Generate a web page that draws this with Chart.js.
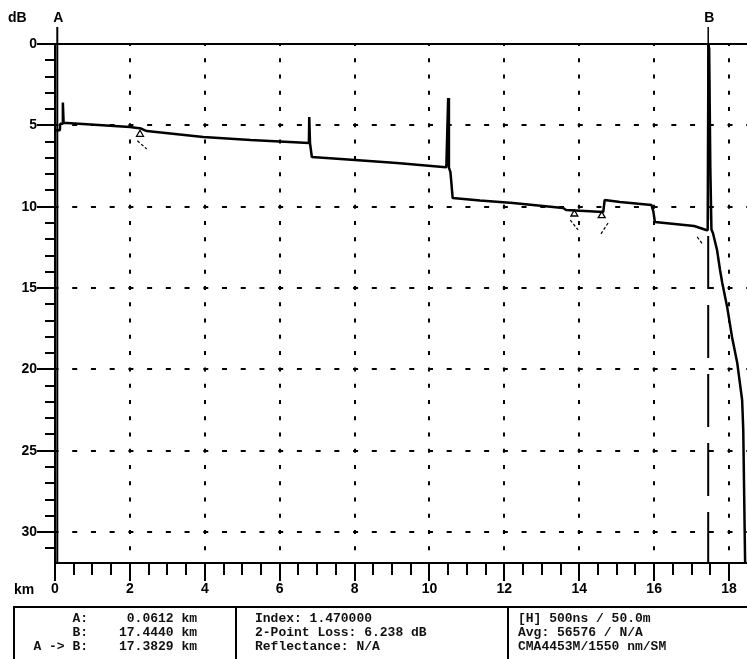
<!DOCTYPE html>
<html><head><meta charset="utf-8">
<script src="https://cdn.jsdelivr.net/npm/chart.js@4.4.1/dist/chart.umd.min.js"></script>
<style>
html,body{margin:0;padding:0;background:#fff;}
#wrap{position:relative;width:747px;height:659px;overflow:hidden;background:#fff;}
#c{position:absolute;left:0;top:0;}
.box{position:absolute;left:13px;top:606px;width:740px;height:60px;border-top:2px solid #000;border-left:2px solid #000;}
.sep{position:absolute;top:606px;width:2px;height:60px;background:#000;}
.t{position:absolute;font:bold 13px "Liberation Mono",monospace;color:#111;white-space:pre;line-height:14px;}
</style></head>
<body><div id="wrap"><canvas id="c" width="747" height="659"></canvas><div id="info"></div></div>
<script>
// ---- data ----
const traceKm = [0.00, 0.13, 0.14, 0.20, 0.21, 0.23, 0.32, 2.00, 2.30, 2.45, 3.96, 5.22, 6.78, 6.79, 6.81, 6.86, 8.01, 9.13, 10.36, 10.45, 10.50, 10.52, 10.56, 10.58, 10.62, 11.35, 12.23, 13.57, 13.65, 14.64, 14.68, 15.09, 15.93, 15.98, 16.02, 17.07, 17.39, 17.43, 17.45, 17.47, 17.50, 17.53, 17.57, 17.68, 17.76, 17.82, 17.95, 18.08, 18.22, 18.35, 18.38, 18.43];
const traceDb = [5.30, 5.30, 4.90, 4.90, 3.60, 4.85, 4.86, 5.10, 5.20, 5.35, 5.72, 5.90, 6.08, 4.49, 6.10, 6.95, 7.13, 7.31, 7.56, 7.58, 3.32, 7.60, 7.87, 8.40, 9.47, 9.62, 9.77, 10.08, 10.20, 10.33, 9.59, 9.71, 9.90, 10.30, 10.94, 11.19, 11.43, 11.45, 0.00, 0.30, 7.50, 11.40, 11.62, 12.66, 13.89, 14.69, 16.16, 18.01, 19.61, 21.88, 23.72, 31.90];
const markerKm = [0.0612, 17.444];
const markerNames = ['A', 'B'];
const eventKm = [2.27, 13.87, 14.60];
const eventDb = [5.55, 10.45, 10.55];
const hookKm = [2.20, 2.45, null, 13.76, 13.97, null, 14.77, 14.56, null, 17.15, 17.31];
const hookDb = [5.95, 6.45, null, 10.82, 11.43, null, 11.00, 11.74, null, 11.86, 12.35];
const xTickValues = [0, 2, 4, 6, 8, 10, 12, 14, 16, 18];
const yTickValues = [0, 5, 10, 15, 20, 25, 30];
const xMaxKm = 18.48, yMaxDb = 31.9, minorKm = 0.5, minorDb = 1;
const infoLabels = ['A:', 'B:', 'A -> B:'];
const infoValues = ['0.0612 km', '17.4440 km', '17.3829 km'];
const infoMid = ['Index: 1.470000', '2-Point Loss: 6.238 dB', 'Reflectance: N/A'];
const infoRight = ['[H] 500ns / 50.0m', 'Avg: 56576 / N/A', 'CMA4453M/1550 nm/SM'];

// ---- info table (HTML text) ----
(function(){
  let h = '<div class="box"></div><div class="sep" style="left:235px"></div><div class="sep" style="left:507px"></div>';
  for (let i = 0; i < 3; i++) {
    const top = 612 + i * 14;
    h += `<div class="t" style="left:0;width:88px;text-align:right;top:${top}px">${infoLabels[i].replace('>','&gt;')}</div>`;
    h += `<div class="t" style="left:90px;width:107px;text-align:right;top:${top}px">${infoValues[i]}</div>`;
    h += `<div class="t" style="left:255px;top:${top}px">${infoMid[i]}</div>`;
    h += `<div class="t" style="left:518px;top:${top}px">${infoRight[i]}</div>`;
  }
  document.getElementById('info').innerHTML = h;
})();

const pts = (xs, ys) => xs.map((x, i) => (x === null ? {x: NaN, y: null} : {x: x, y: ys[i]}));
const axisFont = {family: '"Liberation Sans", Arial, sans-serif', size: 14, weight: 'bold'};

const decor = {
  id: 'decor',
  afterDraw(chart) {
    const {ctx, chartArea: a, scales: {x, y}} = chart;
    ctx.save();
    ctx.strokeStyle = '#000';
    ctx.lineWidth = 2;
    for (let v = 0; v <= x.max + 1e-9; v += minorKm) {
      const px = Math.round(x.getPixelForValue(v));
      const major = Math.abs(v / 2 - Math.round(v / 2)) < 1e-6;
      ctx.beginPath(); ctx.moveTo(px, a.bottom); ctx.lineTo(px, a.bottom + (major ? 18 : 12)); ctx.stroke();
    }
    for (let v = 0; v <= y.max + 1e-9; v += minorDb) {
      const py = Math.round(y.getPixelForValue(v));
      const major = v % 5 === 0;
      ctx.beginPath(); ctx.moveTo(a.left, py); ctx.lineTo(a.left - (major ? 18 : 10), py); ctx.stroke();
    }
    ctx.fillStyle = '#000';
    ctx.font = 'bold 14px "Liberation Sans", Arial, sans-serif';
    ctx.textBaseline = 'middle';
    ctx.textAlign = 'left';
    ctx.fillText('dB', 8, 18);
    ctx.fillText('km', 14, 590);
    ctx.textAlign = 'center';
    markerKm.forEach((k, i) => ctx.fillText(markerNames[i], x.getPixelForValue(k) + 1, 18));
    ctx.restore();
  }
};

new Chart(document.getElementById('c'), {
  type: 'line',
  data: {
    datasets: [
      {data: pts(traceKm, traceDb), borderColor: '#000', borderWidth: 2.5, pointRadius: 0, tension: 0, borderJoinStyle: 'bevel'},
      {data: pts(hookKm, hookDb), borderColor: '#000', borderWidth: 1.2, pointRadius: 0, borderDash: [3, 2], spanGaps: false},
      {type: 'scatter', data: pts(eventKm, eventDb), pointStyle: 'triangle', pointRadius: 4, borderWidth: 1.3, borderColor: '#000', backgroundColor: '#fff'},
      {data: [{x: markerKm[0], y: -1.05}, {x: markerKm[0], y: yMaxDb}], borderColor: '#000', borderWidth: 2, pointRadius: 0, clip: false},
      {data: [{x: markerKm[1], y: -1.05}, {x: markerKm[1], y: 0}], borderColor: '#000', borderWidth: 1.5, pointRadius: 0, clip: false},
      {data: [{x: markerKm[1], y: 0}, {x: markerKm[1], y: yMaxDb}], borderColor: '#000', borderWidth: 2, pointRadius: 0, borderDash: [53, 16], borderDashOffset: 15}
    ]
  },
  options: {
    responsive: false,
    animation: false,
    layout: {autoPadding: false, padding: {top: 44, left: 0, right: 0, bottom: 0}},
    plugins: {legend: {display: false}, tooltip: {enabled: false}},
    scales: {
      x: {
        type: 'linear', min: 0, max: xMaxKm,
        afterFit: s => { s.height = 96; s.paddingLeft = 0; s.paddingRight = 0; },
        afterBuildTicks: s => { s.ticks = xTickValues.map(v => ({value: v})); },
        ticks: {color: '#000', font: {family: axisFont.family, size: 14, weight: 'bold', lineHeight: 2.6}, padding: 8, maxRotation: 0, autoSkip: false, callback: v => String(v)},
        grid: {drawTicks: false, lineWidth: 2, color: c => (c.tick && c.tick.value === 0) ? 'rgba(0,0,0,0)' : '#000'},
        border: {display: true, color: '#000', width: 2,
          dash: c => { const ys = c.chart.scales.y; const p = Math.abs(ys.getPixelForValue(minorDb) - ys.getPixelForValue(0)); return [4, p - 4]; },
          dashOffset: 2}
      },
      y: {
        type: 'linear', min: 0, max: yMaxDb, reverse: true,
        afterFit: s => { s.width = 55; s.paddingTop = 0; s.paddingBottom = 0; },
        afterBuildTicks: s => { s.ticks = yTickValues.map(v => ({value: v})); },
        ticks: {color: '#000', font: axisFont, padding: 18, callback: v => String(v)},
        grid: {drawTicks: false, lineWidth: 2, color: '#000'},
        border: {display: true, color: '#000', width: 2,
          dash: c => { if (!c.tick || c.tick.value === 0) return []; const xs = c.chart.scales.x; const p = Math.abs(xs.getPixelForValue(minorKm) - xs.getPixelForValue(0)); return [5, p - 5]; },
          dashOffset: 2.5}
      }
    }
  },
  plugins: [decor]
});
</script>
</body></html>
